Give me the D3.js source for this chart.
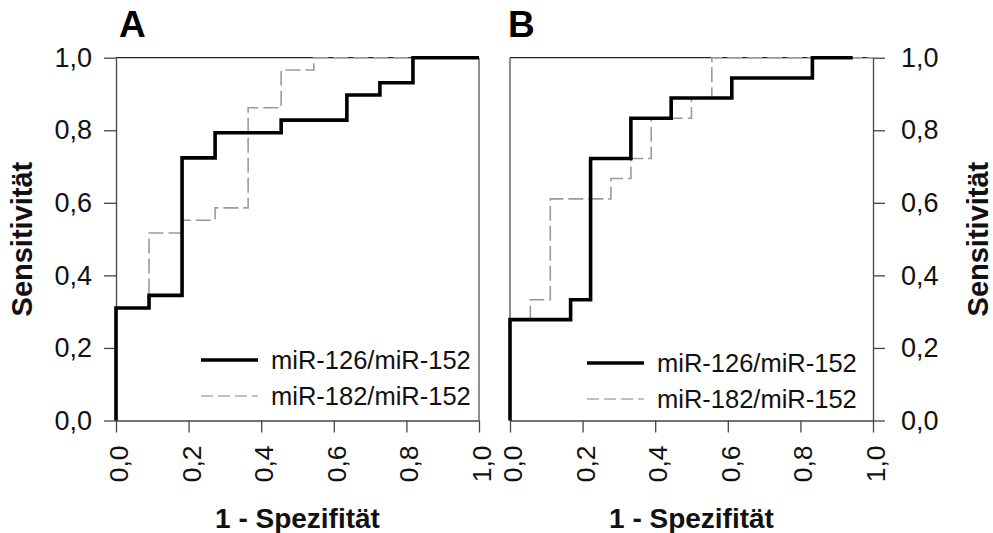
<!DOCTYPE html>
<html><head><meta charset="utf-8">
<script src="https://cdn.jsdelivr.net/npm/d3@7"></script>
<style>
body{margin:0;background:#fff;}
svg{display:block;font-family:"Liberation Sans",Arial,sans-serif;}
</style></head>
<body><svg id="c" width="993" height="533"></svg>
<script>
// ROC data (1 - Spezifität, Sensitivität), step points
const ticks = [0, 0.2, 0.4, 0.6, 0.8, 1.0];
const seriesNames = ["miR-126/miR-152", "miR-182/miR-152"];

const aBlackX = [0, 0, 0.091, 0.182, 0.273, 0.455, 0.636, 0.727, 0.818, 1.0];
const aBlackY = [0, 0.31, 0.345, 0.724, 0.793, 0.828, 0.897, 0.931, 1.0, 1.0];
const aGrayX  = [0, 0, 0.091, 0.182, 0.273, 0.364, 0.455, 0.545, 1.0];
const aGrayY  = [0, 0.31, 0.517, 0.552, 0.586, 0.862, 0.966, 1.0, 1.0];

const bBlackX = [0, 0, 0.167, 0.222, 0.333, 0.444, 0.611, 0.833, 0.944];
const bBlackY = [0, 0.278, 0.333, 0.722, 0.833, 0.889, 0.944, 1.0, 1.0];
const bGrayX  = [0, 0, 0.056, 0.111, 0.278, 0.333, 0.389, 0.5, 0.556, 1.0];
const bGrayY  = [0, 0.278, 0.333, 0.611, 0.667, 0.722, 0.833, 0.889, 1.0, 1.0];

const svg = d3.select("#c");
const fmt = d => d3.format(".1f")(d).replace(".", ",");
const axisColor = "#444";

function panel(opts){
  const x = d3.scaleLinear().domain([0,1]).range([opts.x0, opts.x1]);
  const y = d3.scaleLinear().domain([0,1]).range([420.5, 57.7]);
  const g = svg.append("g");

  // frame lines
  g.append("line").attr("x1", x(0)).attr("x2", x(1)).attr("y1", y(1)).attr("y2", y(1))
    .attr("stroke", "#222").attr("stroke-width", 1.3);
  const otherX = opts.side === "left" ? x(1) : x(0);
  g.append("line").attr("x1", otherX).attr("x2", otherX).attr("y1", y(0)).attr("y2", y(1))
    .attr("stroke", "#555").attr("stroke-width", 1.3);

  // x axis
  const xa = g.append("g").attr("transform", `translate(0,${y(0)})`)
    .call(d3.axisBottom(x).tickValues(ticks).tickSize(12).tickSizeOuter(0).tickFormat(fmt));
  xa.select(".domain").attr("stroke", axisColor).attr("stroke-width", 1.3);
  xa.selectAll(".tick line").attr("stroke", axisColor).attr("stroke-width", 1.3);
  xa.selectAll(".tick text")
    .attr("font-size", 26.5).attr("fill", "#111")
    .attr("transform", "rotate(-90)")
    .attr("text-anchor", "end")
    .attr("x", -25).attr("y", 2).attr("dy", "0.36em");

  // y axis
  const ya = g.append("g").attr("transform", `translate(${opts.side==="left" ? x(0) : x(1)},0)`)
    .call((opts.side==="left" ? d3.axisLeft(y) : d3.axisRight(y))
      .tickValues(ticks).tickSize(12).tickSizeOuter(0).tickFormat(fmt).tickPadding(opts.side==="left"?12:16));
  ya.select(".domain").attr("stroke", axisColor).attr("stroke-width", 1.3);
  ya.selectAll(".tick line").attr("stroke", axisColor).attr("stroke-width", 1.3);
  ya.selectAll(".tick text").attr("font-size", 27).attr("fill", "#111");

  const line = d3.line().x(d => x(d[0])).y(d => y(d[1])).curve(d3.curveStepAfter);
  const gray = opts.grayX.map((v,i) => [v, opts.grayY[i]]);
  const black = opts.blackX.map((v,i) => [v, opts.blackY[i]]);
  g.append("path").attr("d", line(gray)).attr("fill","none")
    .attr("stroke", "#9a9a9a").attr("stroke-width", 1.6).attr("stroke-dasharray", "15,5");
  g.append("path").attr("d", line(black)).attr("fill","none")
    .attr("stroke", "#000").attr("stroke-width", 3.6);

  // legend
  const lg = g.append("g");
  lg.append("line").attr("x1", opts.lx).attr("x2", opts.lx + 57).attr("y1", opts.ly).attr("y2", opts.ly)
    .attr("stroke", "#000").attr("stroke-width", 3.6);
  lg.append("line").attr("x1", opts.lx).attr("x2", opts.lx + 57).attr("y1", opts.ly + 36).attr("y2", opts.ly + 36)
    .attr("stroke", "#aaa").attr("stroke-width", 1.3).attr("stroke-dasharray", "12,5");
  lg.append("text").attr("x", opts.lx + 70).attr("y", opts.ly + 9).attr("font-size", 25.5).attr("fill","#111").text(seriesNames[0]);
  lg.append("text").attr("x", opts.lx + 70).attr("y", opts.ly + 45).attr("font-size", 25.5).attr("fill","#111").text(seriesNames[1]);

  // title
  g.append("text").attr("x", opts.tx).attr("y", 37).attr("font-size", 37).attr("font-weight", "bold").text(opts.title);
  // x label
  g.append("text").attr("x", (x(0)+x(1))/2).attr("y", 528).attr("text-anchor","middle")
    .attr("font-size", 28).attr("font-weight","bold").attr("fill","#111").text("1 - Spezifität");
  // y label
  g.append("text").attr("transform", `translate(${opts.ylx},${(y(0)+y(1))/2}) rotate(-90)`)
    .attr("text-anchor","middle").attr("dy","0.36em")
    .attr("font-size", 29).attr("font-weight","bold").attr("fill","#111").text("Sensitivität");
}

panel({x0:116, x1:479, side:"left", title:"A", tx:119, ylx:22,
  blackX:aBlackX, blackY:aBlackY, grayX:aGrayX, grayY:aGrayY, lx:201, ly:360});
panel({x0:510, x1:873, side:"right", title:"B", tx:508, ylx:978,
  blackX:bBlackX, blackY:bBlackY, grayX:bGrayX, grayY:bGrayY, lx:587, ly:363});
</script></body></html>
